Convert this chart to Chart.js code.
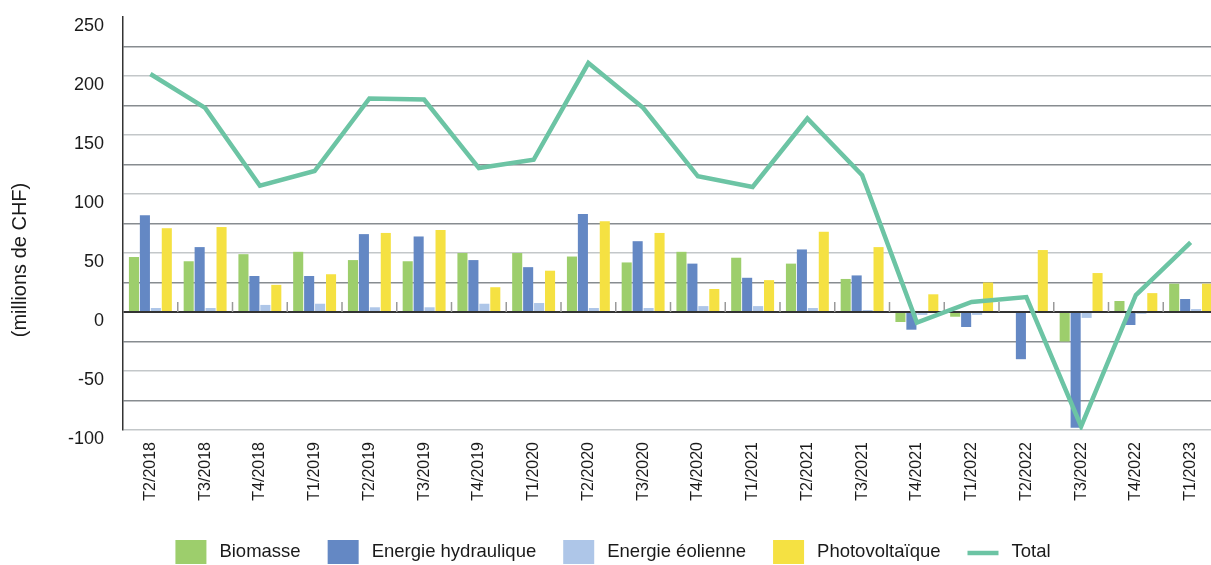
<!DOCTYPE html>
<html>
<head>
<meta charset="utf-8">
<script src="https://cdn.jsdelivr.net/npm/chart.js@4.4.1/dist/chart.umd.min.js"></script>
<style>
  html, body { margin: 0; padding: 0; overflow: hidden; background: #fff; }
  #wrap { width: 1218px; height: 565px; }
</style>
</head>
<body>
<div id="wrap"><canvas id="chart"></canvas></div>
<script>
const quarters = ['T2/2018', 'T3/2018', 'T4/2018', 'T1/2019', 'T2/2019', 'T3/2019', 'T4/2019', 'T1/2020',
  'T2/2020', 'T3/2020', 'T4/2020', 'T1/2021', 'T2/2021', 'T3/2021', 'T4/2021', 'T1/2022',
  'T2/2022', 'T3/2022', 'T4/2022', 'T1/2023'];
const biomasse = [46.6, 43, 49, 51, 44, 43, 50, 50, 47, 42, 51, 46, 41, 28, -8.5, -4, 0, -25, 9.3, 24];
const hydraulique = [82, 55, 30.5, 30.5, 66, 64, 44, 38, 83, 60, 41, 29, 53, 31, -15, -12.7, -40, -98, -11, 11];
const eolienne = [3.4, 3.4, 6, 7, 4, 4, 7, 7.6, 3.4, 3.4, 5, 5, 3.4, 1.7, -2.5, -2.5, 0, -5, -1.5, 2.5];
const photovoltaique = [71, 72, 23, 32, 67, 69.5, 21, 35, 77, 67, 19.5, 27, 68, 55, 15, 25, 52.5, 33, 16, 24];
const total = [201.7, 173, 107, 119.5, 181, 180, 122, 129, 211, 173, 115, 106, 164, 116, -9, 8.5, 12.7, -97, 14.4, 59];
const yTicks = { min: -100, max: 250, step: 25 };

const FONT = '"Liberation Sans", Arial, sans-serif';
const TEXT = '#1a1a1a';

// little ticks on the zero line between quarters
const zeroTicks = {
  id: 'zeroTicks',
  beforeDatasetsDraw(chart) {
    const { ctx, scales: { x, y } } = chart;
    const y0 = y.getPixelForValue(0);
    const half = (x.getPixelForValue(1) - x.getPixelForValue(0)) / 2;
    ctx.save();
    ctx.strokeStyle = '#9a9a9a';
    ctx.lineWidth = 1.5;
    for (let i = 1; i < quarters.length; i++) {
      const px = x.getPixelForValue(i) - half;
      ctx.beginPath();
      ctx.moveTo(px, y0 - 10);
      ctx.lineTo(px, y0);
      ctx.stroke();
    }
    ctx.restore();
  }
};

const yTitle = {
  id: 'yTitle',
  afterDraw(chart) {
    const ctx = chart.ctx;
    ctx.save();
    ctx.translate(20, 260);
    ctx.rotate(-Math.PI / 2);
    ctx.font = '20px ' + FONT;
    ctx.fillStyle = TEXT;
    ctx.textAlign = 'center';
    ctx.textBaseline = 'middle';
    ctx.fillText('(millions de CHF)', 0, 0);
    ctx.restore();
  }
};

const legendBelow = {
  id: 'legendBelow',
  afterDraw(chart) {
    const ctx = chart.ctx;
    ctx.save();
    ctx.font = '18.5px ' + FONT;
    const items = chart.data.datasets.map(ds => ({
      label: ds.label,
      color: ds.type === 'line' ? ds.borderColor : ds.backgroundColor,
      line: ds.type === 'line'
    }));
    const boxW = 31, gapText = 13, gapItem = 27;
    const widths = items.map(it => boxW + gapText + ctx.measureText(it.label).width);
    const full = widths.reduce((a, b) => a + b, 0) + gapItem * (items.length - 1);
    let x = 613 - full / 2;
    const y = 552;
    items.forEach((it, i) => {
      if (it.line) {
        ctx.strokeStyle = it.color;
        ctx.lineWidth = 4.5;
        ctx.beginPath();
        ctx.moveTo(x, y + 1);
        ctx.lineTo(x + boxW, y + 1);
        ctx.stroke();
      } else {
        ctx.fillStyle = it.color;
        ctx.fillRect(x, y - 12, boxW, 24);
      }
      ctx.fillStyle = TEXT;
      ctx.textAlign = 'left';
      ctx.textBaseline = 'middle';
      ctx.fillText(it.label, x + boxW + gapText, y);
      x += widths[i] + gapItem;
    });
    ctx.restore();
  }
};

const bar = (label, data, color) => ({
  type: 'bar', label, data, backgroundColor: color, borderWidth: 0,
  categoryPercentage: 0.8, barPercentage: 0.92, order: 1
});

new Chart(document.getElementById('chart'), {
  data: {
    labels: quarters,
    datasets: [
      bar('Biomasse', biomasse, '#9dce6c'),
      bar('Energie hydraulique', hydraulique, '#6488c4'),
      bar('Energie éolienne', eolienne, '#aec6e8'),
      bar('Photovoltaïque', photovoltaique, '#f5e142'),
      {
        type: 'line', label: 'Total', data: total,
        borderColor: '#6cc4a4', backgroundColor: '#6cc4a4',
        borderWidth: 4.5, pointRadius: 0, tension: 0,
        borderJoinStyle: 'miter', order: 0
      }
    ]
  },
  options: {
    responsive: true,
    maintainAspectRatio: false,
    animation: false,
    layout: { padding: { top: 17, left: 0, right: 0, bottom: 0 } },
    plugins: {
      legend: { display: false },
      tooltip: { enabled: false }
    },
    scales: {
      x: {
        offset: true,
        grid: { display: false, drawTicks: false },
        border: { display: false },
        ticks: {
          maxRotation: 90, minRotation: 90, autoSkip: false,
          padding: 12, color: TEXT,
          font: { size: 16, family: FONT }
        },
        afterFit(scale) {
          scale.height = 135;
          scale.paddingLeft = 0;
          scale.paddingRight = 0;
        }
      },
      y: {
        min: yTicks.min, max: yTicks.max,
        grid: {
          drawTicks: false,
          color: c => {
            const v = c.tick.value;
            if (v === yTicks.max) return 'rgba(0,0,0,0)';
            if (v === 0) return '#333';
            return v % 50 === 0 ? '#c3c7c9' : '#878c90';
          },
          lineWidth: c => c.tick.value === 0 ? 2 : 1.5
        },
        border: { display: true, color: '#333', width: 1.5 },
        ticks: {
          stepSize: yTicks.step, autoSkip: false,
          padding: 19, labelOffset: 9, color: TEXT,
          font: { size: 18, family: FONT },
          callback: v => v % 50 === 0 ? v : ''
        },
        afterFit(scale) {
          scale.width = 123;
          scale.paddingTop = 0;
          scale.paddingBottom = 0;
        }
      }
    }
  },
  plugins: [zeroTicks, yTitle, legendBelow]
});
</script>
</body>
</html>
